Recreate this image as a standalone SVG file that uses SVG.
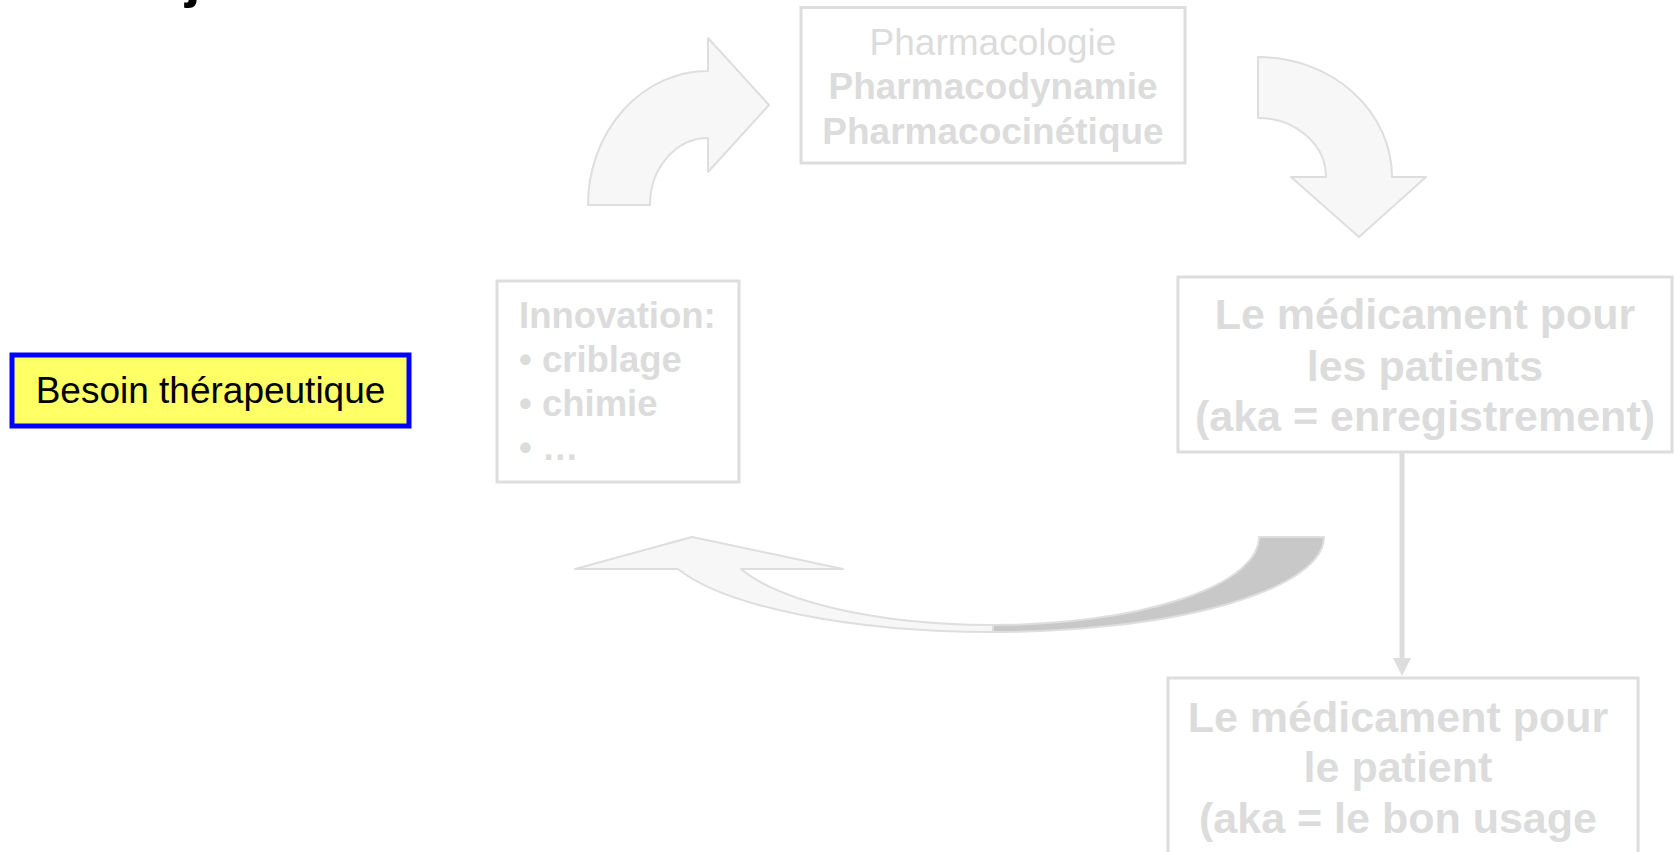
<svg xmlns="http://www.w3.org/2000/svg" width="1674" height="852" viewBox="0 0 1674 852">
<style>
.box{fill:#ffffff;stroke:#dddddd;stroke-width:3}
.arr{fill:#f7f7f7;stroke:#dedede;stroke-width:2;stroke-linejoin:round}
.dark{fill:#c8c8c8;stroke:#dedede;stroke-width:2;stroke-linejoin:round}
.t{font-family:"Liberation Sans",Arial,sans-serif;fill:#dcdcdc}
.b{font-weight:bold}
</style>
<rect width="1674" height="852" fill="#ffffff"/>
<text x="185" y="-4" font-family="Liberation Sans, Arial, sans-serif" font-weight="bold" font-size="56" fill="#000">j</text>
<g id="connectors">
<path class="arr" d="M 588,205 A 120,134 0 0 1 708,71 L 708,38 L 769,105 L 708,172 L 708,138 A 58,67 0 0 0 650,205 Z"/>
<path class="arr" d="M 1258,57 A 134,120 0 0 1 1392,177 L 1426,177 L 1359,237 L 1291,177 L 1326,177 A 68,59 0 0 0 1258,118 Z"/>
<path class="arr" d="M 678,569 L 575,569 L 692,537 L 843,569 L 741,569 A 269,88 0 0 0 993,625 L 993,632 A 334,95 0 0 1 678,569 Z"/>
<path class="dark" d="M 993,625 A 266,88 0 0 0 1259,537 L 1324,537 A 331,95 0 0 1 993,632 Z"/>
<line x1="1402" y1="452" x2="1402" y2="660" stroke="#dddddd" stroke-width="5"/>
<polygon points="1393,658 1411,658 1402,676" fill="#dddddd"/>
</g>
<g id="besoin">
<rect x="12" y="355" width="397" height="71" fill="#ffff66" stroke="#0000ff" stroke-width="5"/>
<text x="210.5" y="403" text-anchor="middle" font-family="Liberation Sans, Arial, sans-serif" font-size="37" fill="#000">Besoin thérapeutique</text>
</g>
<g id="pharmacologie">
<rect class="box" x="801" y="7.5" width="384" height="155.5"/>
<text class="t" x="993" y="55" font-size="37" text-anchor="middle">Pharmacologie</text>
<text class="t b" x="993" y="99" font-size="37" text-anchor="middle">Pharmacodynamie</text>
<text class="t b" x="993" y="144" font-size="37" text-anchor="middle">Pharmacocinétique</text>
</g>
<g id="innovation">
<rect class="box" x="497" y="281" width="242" height="201"/>
<text class="t b" x="519" y="328" font-size="36.5">Innovation:</text>
<text class="t b" x="519" y="372" font-size="36.5">• criblage</text>
<text class="t b" x="519" y="416" font-size="36.5">• chimie</text>
<text class="t b" x="519" y="460" font-size="36.5">• …</text>
</g>
<g id="patients">
<rect class="box" x="1178" y="277" width="494" height="175"/>
<text class="t b" x="1425" y="329" font-size="43" text-anchor="middle">Le médicament pour</text>
<text class="t b" x="1425" y="381" font-size="43" text-anchor="middle">les patients</text>
<text class="t b" x="1425" y="431" font-size="43" text-anchor="middle">(aka = enregistrement)</text>
</g>
<g id="patient">
<rect class="box" x="1168" y="678" width="470" height="200"/>
<text class="t b" x="1398" y="732" font-size="43" text-anchor="middle">Le médicament pour</text>
<text class="t b" x="1398" y="782" font-size="43" text-anchor="middle">le patient</text>
<text class="t b" x="1398" y="833" font-size="43" text-anchor="middle">(aka = le bon usage</text>
</g>
</svg>
